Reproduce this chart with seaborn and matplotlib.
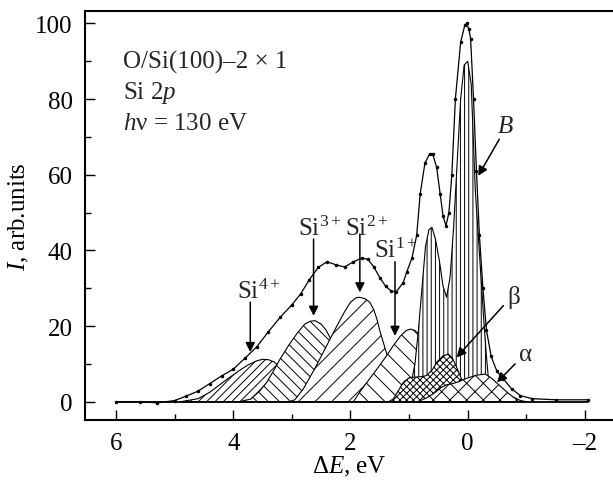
import matplotlib
matplotlib.use('Agg')
import matplotlib.pyplot as plt
import seaborn as sns
from matplotlib.ticker import MultipleLocator

# total fitted spectrum (envelope)
env_x = [6.0, 5.6, 5.3, 5.0, 4.8, 4.6, 4.4, 4.2, 4.0, 3.8, 3.6, 3.4, 3.2, 3.0,
         2.85, 2.7, 2.55, 2.4, 2.25, 2.1, 1.95, 1.8, 1.7, 1.6, 1.5, 1.4, 1.3,
         1.22, 1.1, 1.04, 0.95, 0.87, 0.81, 0.73, 0.65, 0.6, 0.53, 0.47, 0.42,
         0.37, 0.32, 0.27, 0.21, 0.12, 0.05, 0.02, -0.02, -0.05, -0.1, -0.15,
         -0.2, -0.26, -0.32, -0.4, -0.5, -0.61, -0.75, -0.9, -1.1, -1.5, -2.05]
env_y = [0.0, 0.0, -0.3, 0.3, 1.5, 2.8, 4.8, 6.8, 8.6, 11.5, 14.5, 18.5, 22.3, 25.6,
         28.5, 32.3, 35.5, 37.0, 36.2, 35.6, 37.0, 38.0, 37.6, 35.6, 32.8, 30.5, 29.2,
         29.0, 31.5, 34.3, 38.0, 44.0, 55.0, 63.0, 65.5, 65.6, 62.0, 55.0, 49.0,
         46.5, 50.0, 60.0, 80.0, 95.0, 99.5, 100.0, 98.5, 96.0, 80.0, 61.0,
         44.0, 30.0, 19.0, 12.0, 8.0, 6.0, 3.4, 1.6, 0.8, 0.5, 0.5]

# baseline
base_x = [6.0, -2.05]
base_y = [0.0, 0.0]

# components
si4_x = [4.9, 4.6, 4.4, 4.1, 3.9, 3.75, 3.6, 3.5, 3.4, 3.3, 3.2, 3.1, 3.0, 2.9, 2.75, 2.6]
si4_y = [0.0, 0.8, 2.5, 6.0, 8.2, 9.7, 10.8, 11.2, 11.1, 10.5, 9.0, 6.5, 4.0, 2.0, 0.6, 0.0]

si3_x = [3.9, 3.7, 3.55, 3.43, 3.3, 3.2, 3.05, 2.9, 2.78, 2.68, 2.6, 2.5, 2.42, 2.35,
         2.25, 2.15, 2.05, 1.9, 1.75]
si3_y = [0.0, 0.7, 2.8, 5.1, 8.5, 11.3, 15.0, 18.3, 20.5, 21.3, 21.4, 20.5, 19.0, 17.0,
         12.5, 7.5, 3.5, 1.0, 0.0]

si2_x = [3.05, 2.95, 2.8, 2.6, 2.4, 2.25, 2.1, 2.0, 1.9, 1.84, 1.75, 1.67, 1.6, 1.55,
         1.5, 1.44, 1.35, 1.25, 1.15, 1.0, 0.85]
si2_y = [0.0, 0.5, 3.5, 9.0, 15.0, 19.5, 23.8, 26.3, 27.5, 27.6, 27.2, 26.3, 24.2, 21.9,
         18.8, 15.7, 11.0, 6.5, 3.0, 0.8, 0.0]

si1_x = [1.95, 1.84, 1.7, 1.55, 1.4, 1.27, 1.15, 1.05, 0.97, 0.9, 0.81, 0.72, 0.61,
         0.5, 0.4, 0.3, 0.15]
si1_y = [0.0, 2.6, 5.5, 8.6, 11.8, 14.8, 17.3, 18.8, 19.2, 18.8, 17.4, 14.5, 10.5,
         6.5, 3.5, 1.5, 0.0]

b_x = [1.1, 1.0, 0.9, 0.84, 0.78, 0.72, 0.66, 0.61, 0.55, 0.48, 0.42, 0.36, 0.3, 0.24,
       0.18, 0.12, 0.06, 0.0, -0.06, -0.13, -0.21, -0.27, -0.32, -0.36, -0.42, -0.5]
b_y = [0.0, 2.0, 10.0, 19.0, 30.0, 41.0, 45.5, 46.1, 43.0, 37.0, 30.5, 27.6, 33.0, 46.0,
       63.0, 80.0, 89.0, 90.0, 84.0, 56.0, 37.0, 22.7, 12.0, 5.0, 1.5, 0.0]

beta_x = [1.35, 1.27, 1.18, 1.1, 1.0, 0.9, 0.8, 0.7, 0.6, 0.53, 0.43, 0.33, 0.26, 0.2,
          0.14, 0.08, 0.02, -0.04, -0.12, -0.2]
beta_y = [0.0, 0.7, 3.0, 5.1, 6.3, 6.5, 6.6, 6.9, 8.5, 10.4, 12.0, 12.6, 11.5, 9.5,
          7.3, 5.1, 3.0, 1.6, 0.4, 0.0]

alpha_x = [0.85, 0.7, 0.55, 0.45, 0.35, 0.25, 0.15, 0.05, -0.05, -0.15, -0.3, -0.4,
           -0.55, -0.68, -0.78, -0.9, -1.0]
alpha_y = [0.0, 1.0, 2.5, 3.8, 4.5, 4.8, 5.3, 6.0, 6.5, 7.0, 7.3, 6.3,
           4.2, 2.4, 1.2, 0.3, 0.0]

sns.set_theme(style='ticks')
plt.rcParams['font.family'] = ['Liberation Serif', 'DejaVu Serif']
plt.rcParams['mathtext.fontset'] = 'custom'
plt.rcParams['mathtext.rm'] = 'Liberation Serif'
plt.rcParams['mathtext.it'] = 'Liberation Serif:italic'
plt.rcParams['hatch.linewidth'] = 0.7

fig = plt.figure(figsize=(6.13, 4.85), dpi=100)
ax = fig.add_axes([0.1387, 0.1326, 0.8613, 0.842])

components = [
    (si4_x, si4_y, '////'),
    (si3_x, si3_y, '\\\\\\'),
    (si2_x, si2_y, '//'),
    (si1_x, si1_y, '\\\\'),
    (b_x, b_y, '||||'),
    (beta_x, beta_y, 'xxxxx'),
    (alpha_x, alpha_y, 'xx'),
]
for cx, cy, h in components:
    ax.fill_between(cx, cy, 0, facecolor='white', edgecolor='black',
                    hatch=h, linewidth=0.8)

sns.lineplot(x=base_x, y=base_y, ax=ax, color='black', lw=1.3, sort=False)
sns.lineplot(x=env_x, y=env_y, ax=ax, color='black', lw=0.9, sort=False,
             marker='.', markersize=3.5, markeredgecolor='black')

ax.set_xlim(6.53, -2.48)
ax.set_ylim(-4.76, 103.2)
ax.xaxis.set_minor_locator(MultipleLocator(1))
ax.yaxis.set_major_locator(MultipleLocator(20))
ax.yaxis.set_minor_locator(MultipleLocator(10))
ax.set_xticks([6, 4, 2, 0, -2])
ax.set_xticklabels(['6', '4', '2', '0', '\u20132'])
ax.tick_params(which='both', direction='in', width=1, color='black',
               labelsize=18, labelcolor='black')
ax.tick_params(which='major', length=7, pad=9)
ax.tick_params(which='minor', length=4)
for s in ['left', 'bottom', 'top']:
    ax.spines[s].set_linewidth(1.5)
    ax.spines[s].set_color('black')
ax.spines['right'].set_visible(False)

ax.set_xlabel(r'$\Delta E$, eV', fontsize=18, color='black', labelpad=0)
ax.set_ylabel(r'$I$, arb.units', fontsize=18, color='black', labelpad=3)

ax.text(5.886, 88.45, 'O/Si(100)\u20132 \u00d7 1', fontsize=18, va='baseline')
ax.text(5.886, 80.26, r'Si 2$p$', fontsize=18, va='baseline')
ax.text(5.886, 72.07, '$h$\u03bd = 130 eV', fontsize=18, va='baseline')

arrow = dict(arrowstyle='-|>', color='black', lw=1.1, mutation_scale=14,
             shrinkA=0, shrinkB=0)
ax.annotate('', xy=(3.71, 13.1), xytext=(3.71, 26.3), arrowprops=arrow)
ax.annotate('', xy=(2.63, 22.7), xytext=(2.63, 43.0), arrowprops=arrow)
ax.annotate('', xy=(1.84, 28.9), xytext=(1.84, 44.3), arrowprops=arrow)
ax.annotate('', xy=(1.24, 17.4), xytext=(1.24, 37.0), arrowprops=arrow)
ax.annotate('', xy=(0.19, 11.7), xytext=(-0.61, 25.4), arrowprops=arrow)
ax.annotate('', xy=(-0.50, 5.1), xytext=(-0.81, 10.0), arrowprops=arrow)
ax.annotate('', xy=(-0.18, 59.7), xytext=(-0.54, 69.4), arrowprops=arrow)

ax.text(3.935, 27.4, r'Si$^{4+}$', fontsize=18, va='baseline')
ax.text(2.89, 44.0, r'Si$^{3+}$', fontsize=18, va='baseline')
ax.text(2.09, 44.0, r'Si$^{2+}$', fontsize=18, va='baseline')
ax.text(1.60, 38.3, r'Si$^{1+}$', fontsize=18, va='baseline')
ax.text(-0.79, 27.9, '\u03b2', fontsize=18, ha='center', va='center')
ax.text(-0.98, 12.6, '\u03b1', fontsize=18, ha='center', va='center')
ax.text(-0.64, 72.9, r'$B$', fontsize=18, ha='center', va='center')

fig.savefig('out.png', dpi=100)
